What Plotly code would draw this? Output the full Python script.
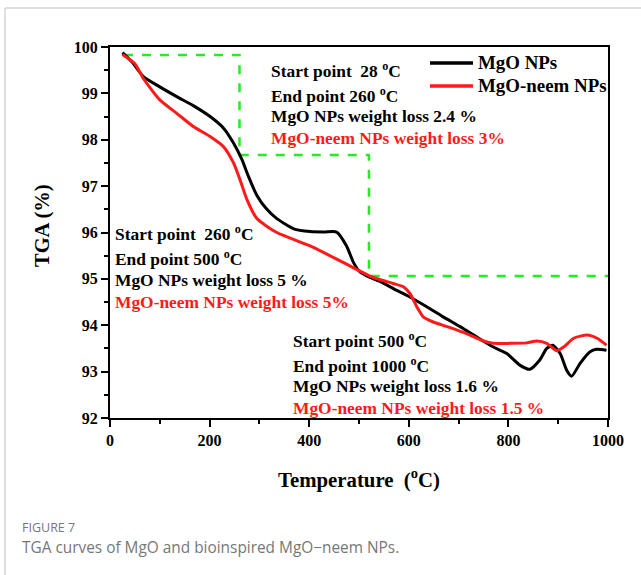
import plotly.graph_objects as go

# ---- data ----
mgo_T = [25, 44, 67, 100, 134, 168, 201, 228, 248, 265, 278, 295, 315, 335, 369, 402, 430, 455,
         475, 489, 502, 522, 543, 569, 602, 636, 669, 703, 736, 770, 797, 823, 843, 863,
         877, 889, 904, 917, 927, 944, 964, 977, 997]
mgo_tga = [99.88, 99.68, 99.36, 99.14, 98.93, 98.73, 98.50, 98.25, 97.93, 97.57, 97.21, 96.80,
           96.50, 96.30, 96.08, 96.02, 96.01, 96.01, 95.71, 95.35, 95.15, 95.03, 94.94, 94.79, 94.61,
           94.40, 94.18, 93.97, 93.75, 93.53, 93.39, 93.14, 93.05, 93.25, 93.50, 93.57, 93.39,
           93.03, 92.90, 93.18, 93.43, 93.48, 93.46]

neem_T = [25, 50, 67, 100, 134, 168, 201, 228, 248, 261, 275, 295, 335, 402, 469, 522, 543,
          569, 589, 602, 616, 629, 649, 683, 716, 750, 770, 803, 837, 857, 877, 897, 911,
          931, 958, 978, 997]
neem_tga = [99.84, 99.64, 99.32, 98.86, 98.57, 98.28, 98.07, 97.85, 97.50, 97.14, 96.71, 96.30,
            96.00, 95.71, 95.35, 95.06, 94.98, 94.90, 94.83, 94.69, 94.40, 94.18, 94.07, 93.95,
            93.82, 93.66, 93.61, 93.61, 93.62, 93.66, 93.61, 93.45, 93.53, 93.72, 93.79, 93.72,
            93.57]

step_T = [28, 260, 260, 520, 520, 1000]
step_tga = [99.83, 99.83, 97.67, 97.67, 95.06, 95.06]

x_ticks = [0, 200, 400, 600, 800, 1000]
y_ticks = [92, 93, 94, 95, 96, 97, 98, 99, 100]

series_names = ["MgO NPs", "MgO-neem NPs"]
series_colors = ["black", "#ff1a1a"]

blocks = [
    (320, 99.51, ["Start point  28 <sup>o</sup>C", "End point 260 <sup>o</sup>C",
                  "MgO NPs weight loss 2.4 %", "MgO-neem NPs weight loss 3%"]),
    (6, 95.98, ["Start point  260 <sup>o</sup>C", "End point 500 <sup>o</sup>C",
                "MgO NPs weight loss 5 %", "MgO-neem NPs weight loss 5%"]),
    (363, 93.69, ["Start point 500 <sup>o</sup>C", "End point 1000 <sup>o</sup>C",
                  "MgO NPs weight loss 1.6 %", "MgO-neem NPs weight loss 1.5 %"]),
]

SERIF = "Liberation Serif, Times New Roman, serif"

# plot-area pixel geometry helpers (for paper-referenced decorations)
L, R, T, B = 110, 608, 47, 418
def px(x):
    return (x - L) / (R - L)
def py(y):
    return (B - y) / (B - T)

fig = go.Figure()
fig.add_trace(go.Scatter(x=step_T, y=step_tga, mode="lines", showlegend=False,
                         line=dict(color="#22ee22", width=2.5, dash="dash")))
fig.add_trace(go.Scatter(x=mgo_T, y=mgo_tga, mode="lines", name=series_names[0], showlegend=False,
                         line=dict(color=series_colors[0], width=3, shape="spline", smoothing=0.6)))
fig.add_trace(go.Scatter(x=neem_T, y=neem_tga, mode="lines", name=series_names[1], showlegend=False,
                         line=dict(color=series_colors[1], width=3, shape="spline", smoothing=0.6)))

annotations = []
line_dy = [0, 0.54, 1.0, 1.47]
for bx, by, lines in blocks:
    for i, t in enumerate(lines):
        col = "#ff1a1a" if i == 3 else "black"
        annotations.append(dict(x=bx, y=by - line_dy[i], xref="x", yref="y", text="<b>" + t + "</b>",
                                showarrow=False, xanchor="left", yanchor="middle",
                                font=dict(family=SERIF, size=17.4, color=col)))

shapes = []
# manual legend
for k, (nm, col) in enumerate(zip(series_names, series_colors)):
    yy = 63 + 23 * k
    shapes.append(dict(type="line", xref="paper", yref="paper", x0=px(430), x1=px(473),
                       y0=py(yy), y1=py(yy), line=dict(color=col, width=3.5)))
    annotations.append(dict(x=px(476), y=py(yy), xref="paper", yref="paper", text="<b>" + nm + "</b>",
                            showarrow=False, xanchor="left", yanchor="middle",
                            font=dict(family=SERIF, size=18.9, color="black")))

annotations.append(dict(x=px(42), y=py(226), xref="paper", yref="paper",
                        text="<b>TGA (%)</b>", textangle=-90, showarrow=False,
                        xanchor="center", yanchor="middle",
                        font=dict(family=SERIF, size=20.5, color="black")))

annotations.append(dict(x=px(20), y=py(527), xref="paper", yref="paper",
                        text="FIGURE 7", showarrow=False, xanchor="left", yanchor="middle",
                        font=dict(family="Open Sans, sans-serif", size=12.5, color="#777777")))
annotations.append(dict(x=px(20), y=py(547), xref="paper", yref="paper",
                        text="TGA curves of MgO and bioinspired MgO\u2212neem NPs.", showarrow=False,
                        xanchor="left", yanchor="middle",
                        font=dict(family="Open Sans, sans-serif", size=15.4, color="#777777")))

shapes += [
    dict(type="line", xref="paper", yref="paper", x0=px(5), x1=px(645),
         y0=py(8), y1=py(8), line=dict(color="#d4d4d4", width=1.5)),
    dict(type="line", xref="paper", yref="paper", x0=px(5), x1=px(5),
         y0=py(8), y1=py(580), line=dict(color="#d4d4d4", width=1.5)),
]

fig.update_layout(
    width=641, height=575,
    margin=dict(l=L, r=641 - R, t=T, b=575 - B, pad=0),
    paper_bgcolor="white", plot_bgcolor="white",
    font=dict(family=SERIF, color="black"),
    showlegend=False,
    annotations=annotations,
    shapes=shapes,
    xaxis=dict(range=[0, 1000], tickvals=x_ticks, ticktext=["<b>%d</b>" % v for v in x_ticks],
               showline=True, linecolor="black", linewidth=2, mirror=True,
               ticks="outside", ticklen=7, tickwidth=2, tickcolor="black",
               minor=dict(dtick=100, ticks="outside", ticklen=4, tickwidth=2, tickcolor="black"),
               showgrid=False, zeroline=False,
               tickfont=dict(family=SERIF, size=16, color="black"),
               title=dict(text="<b>Temperature  (<sup>o</sup>C)</b>", standoff=24,
                          font=dict(family=SERIF, size=20.8, color="black"))),
    yaxis=dict(range=[92, 100], tickvals=y_ticks, ticktext=["<b>%d</b>" % v for v in y_ticks],
               showline=True, linecolor="black", linewidth=2, mirror=True,
               ticks="outside", ticklen=7, tickwidth=2, tickcolor="black",
               minor=dict(dtick=0.5, ticks="outside", ticklen=4, tickwidth=2, tickcolor="black"),
               showgrid=False, zeroline=False,
               tickfont=dict(family=SERIF, size=16, color="black")),
)

fig.write_html("out.html")
